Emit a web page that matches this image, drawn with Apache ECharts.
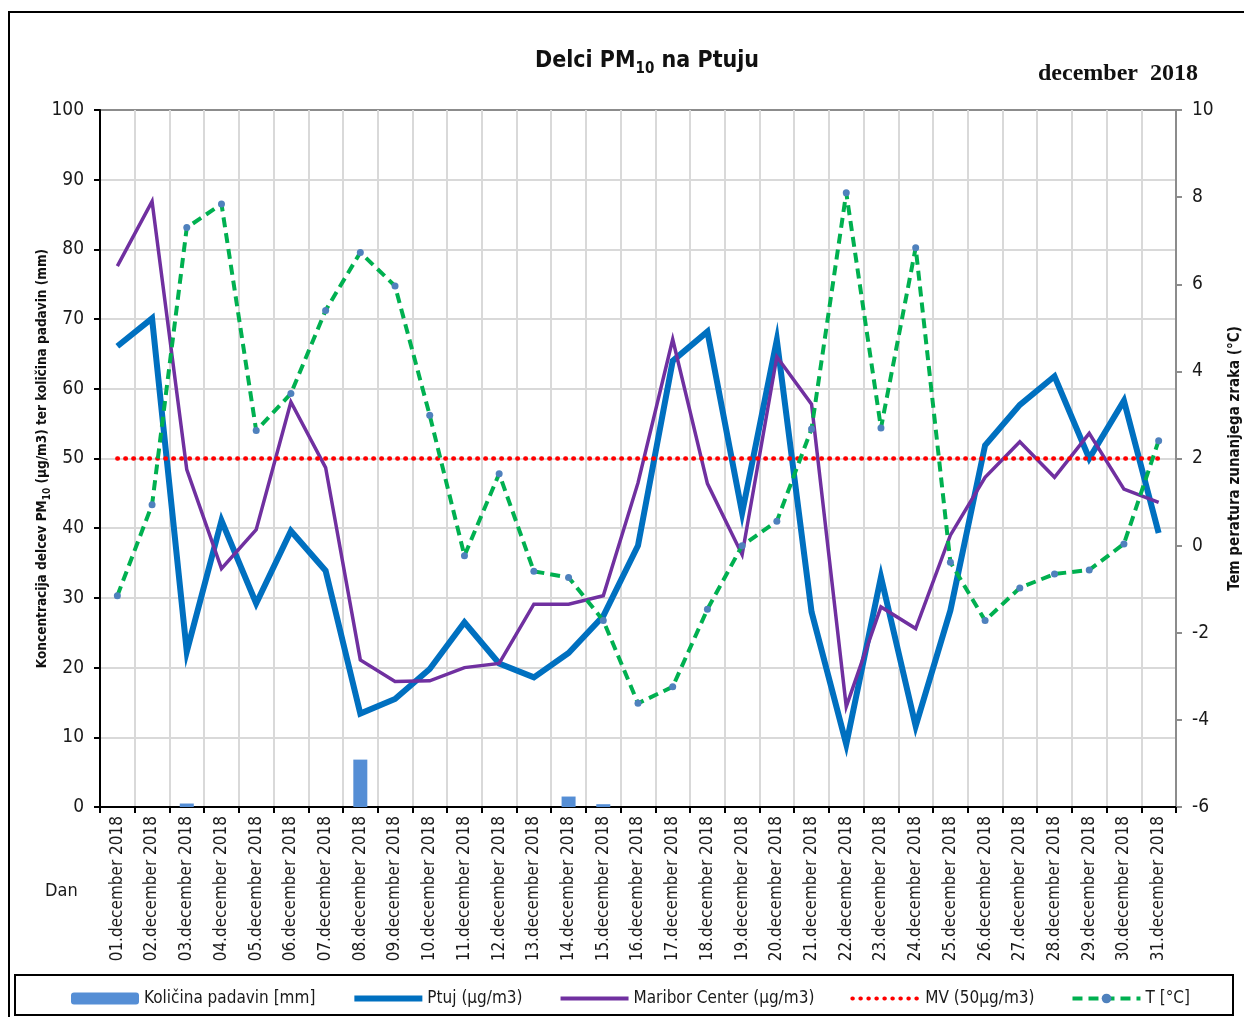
<!DOCTYPE html>
<html>
<head>
<meta charset="utf-8">
<title>Delci PM10 na Ptuju</title>
<script src="https://cdn.jsdelivr.net/npm/echarts@6/dist/echarts.min.js"></script>
<style>
  html, body { margin: 0; padding: 0; background: #fff; }
  #main { width: 1244px; height: 1017px; }
</style>
</head>
<body>
<div id="main"></div>
<script>
// dnevi v decembru 2018
const days = [
  '01.december 2018', '02.december 2018', '03.december 2018', '04.december 2018',
  '05.december 2018', '06.december 2018', '07.december 2018', '08.december 2018',
  '09.december 2018', '10.december 2018', '11.december 2018', '12.december 2018',
  '13.december 2018', '14.december 2018', '15.december 2018', '16.december 2018',
  '17.december 2018', '18.december 2018', '19.december 2018', '20.december 2018',
  '21.december 2018', '22.december 2018', '23.december 2018', '24.december 2018',
  '25.december 2018', '26.december 2018', '27.december 2018', '28.december 2018',
  '29.december 2018', '30.december 2018', '31.december 2018'
];

// količina padavin [mm]
const rain = [0, 0, 0.5, 0, 0, 0, 0, 6.8, 0, 0, 0, 0, 0, 1.5, 0.4, 0,
  0, 0, 0, 0, 0, 0, 0, 0, 0, 0, 0, 0, 0, 0, 0];

// PM10 Ptuj (µg/m3)
const ptuj = [66.1, 70.1, 22.3, 41.1, 29.2, 39.6, 33.9, 13.4, 15.5, 19.8, 26.5, 20.6,
  18.6, 22.1, 27.4, 37.5, 64, 68.2, 42.2, 67, 28, 9, 33, 11.6, 28.2, 51.9,
  57.7, 61.8, 50, 58.3, 39.3];

// PM10 Maribor Center (µg/m3)
const maribor = [77.6, 86.9, 48.4, 34.2, 39.8, 58.1, 48.7, 21.1, 18, 18.1, 20, 20.6,
  29.1, 29.1, 30.3, 46.5, 67.1, 46.4, 36.2, 64.6, 57.8, 14.4, 28.7, 25.6, 39, 47.3,
  52.4, 47.3, 53.6, 45.6, 43.7];

// mejna vrednost
const mvLimit = 50;

// temperatura zraka [°C]
const temp = [-1.15, 0.94, 7.3, 7.84, 2.64, 3.49, 5.4, 6.73, 5.96, 2.99, -0.23, 1.65,
  -0.59, -0.73, -1.72, -3.62, -3.24, -1.46, 0.0, 0.56, 2.68, 8.1, 2.7, 6.84, -0.38,
  -1.72, -0.97, -0.65, -0.56, 0.04, 2.41];

const narrow = "'Liberation Sans Narrow', 'DejaVu Sans Condensed', 'Arial Narrow', sans-serif";
const gridColor = '#D9D9D9';

const chart = echarts.init(document.getElementById('main'));

const option = {
  backgroundColor: '#fff',
  animation: false,
  textStyle: { fontFamily: narrow, color: '#1a1a1a' },
  title: [
    {
      text: '{a|Delci PM}{s|10}{a| na Ptuju}',
      left: 530,
      top: 40,
      textStyle: {
        rich: {
          a: { fontFamily: narrow, fontSize: 23, fontWeight: 'bold', color: '#111', lineHeight: 32 },
          s: { fontFamily: narrow, fontSize: 15, fontWeight: 'bold', color: '#111', lineHeight: 16, verticalAlign: 'bottom' }
        }
      }
    },
    {
      text: 'december  2018',
      left: 1033,
      top: 57,
      textStyle: { fontFamily: "'Liberation Serif', 'DejaVu Serif', serif", fontSize: 24, fontWeight: 'bold', color: '#111' }
    }
  ],
  grid: { left: 100, right: 68, top: 110, bottom: 210, outerBoundsMode: 'none' },
  legend: {
    left: 66,
    top: 985,
    itemWidth: 68,
    itemHeight: 12,
    itemGap: 36,
    textStyle: { fontFamily: narrow, fontSize: 17, color: '#1a1a1a' },
    data: [
      { name: 'Količina padavin [mm]' },
      { name: 'Ptuj (µg/m3)', itemStyle: { opacity: 0 }, lineStyle: { width: 6 } },
      { name: 'Maribor Center (µg/m3)', itemStyle: { opacity: 0 }, lineStyle: { width: 4 } },
      { name: 'MV (50µg/m3)', itemStyle: { opacity: 0 }, lineStyle: { width: 4 } },
      { name: 'T [°C]', lineStyle: { width: 4 } }
    ]
  },
  xAxis: {
    type: 'category',
    data: days,
    boundaryGap: true,
    axisLine: { lineStyle: { color: '#000', width: 2 } },
    axisTick: { show: true, interval: 0, length: 6, lineStyle: { color: '#000', width: 2 } },
    axisLabel: { interval: 0, rotate: 90, fontSize: 17, margin: 9, color: '#1a1a1a', fontFamily: narrow },
    splitLine: { show: true, interval: 0, lineStyle: { color: gridColor, width: 2 } }
  },
  yAxis: [
    {
      type: 'value',
      min: 0,
      max: 100,
      interval: 10,
      name: '{b|Koncentracija delcev PM}{s|10}{b| (µg/m3) ter količina padavin (mm)}',
      nameLocation: 'middle',
      nameGap: 48,
      nameMoveOverlap: false,
      nameRotate: 90,
      nameTextStyle: {
        rich: {
          b: { fontFamily: narrow, fontSize: 13.5, fontWeight: 'bold', color: '#111', lineHeight: 20 },
          s: { fontFamily: narrow, fontSize: 10, fontWeight: 'bold', color: '#111', lineHeight: 12, verticalAlign: 'bottom' }
        }
      },
      axisLine: { show: true, lineStyle: { color: '#000', width: 2 } },
      axisTick: { show: true, length: 6, lineStyle: { color: '#000', width: 2 } },
      axisLabel: { fontSize: 19, margin: 16, color: '#1a1a1a', fontFamily: narrow },
      splitLine: {
        show: true,
        lineStyle: {
          color: [gridColor, gridColor, gridColor, gridColor, gridColor, gridColor,
            gridColor, gridColor, gridColor, gridColor, '#8C8C8C'],
          width: 2
        }
      }
    },
    {
      type: 'value',
      min: -6,
      max: 10,
      interval: 2,
      position: 'right',
      name: 'Tem peratura zunanjega zraka (°C)',
      nameLocation: 'middle',
      nameGap: 52,
      nameRotate: 90,
      nameTextStyle: { fontFamily: narrow, fontSize: 15, fontWeight: 'bold', color: '#111' },
      axisLine: { show: true, lineStyle: { color: '#8C8C8C', width: 2 } },
      axisTick: { show: true, length: 6, lineStyle: { color: '#8C8C8C', width: 2 } },
      axisLabel: { fontSize: 19, margin: 16, color: '#1a1a1a', fontFamily: narrow },
      splitLine: { show: false }
    }
  ],
  series: [
    {
      name: 'Količina padavin [mm]',
      type: 'bar',
      yAxisIndex: 0,
      barWidth: 14,
      itemStyle: { color: '#558ED5' },
      data: rain
    },
    {
      name: 'Ptuj (µg/m3)',
      type: 'line',
      yAxisIndex: 0,
      symbol: 'none',
      lineStyle: { color: '#0070C0', width: 6, join: 'miter' },
      itemStyle: { color: '#0070C0' },
      data: ptuj
    },
    {
      name: 'Maribor Center (µg/m3)',
      type: 'line',
      yAxisIndex: 0,
      symbol: 'none',
      lineStyle: { color: '#7030A0', width: 3.5, join: 'miter' },
      itemStyle: { color: '#7030A0' },
      data: maribor
    },
    {
      name: 'MV (50µg/m3)',
      type: 'line',
      yAxisIndex: 0,
      symbol: 'none',
      lineStyle: { color: '#FF0000', width: 4.5, type: [0.5, 7.5], cap: 'round' },
      itemStyle: { color: '#FF0000' },
      data: days.map(() => mvLimit)
    },
    {
      name: 'T [°C]',
      type: 'line',
      yAxisIndex: 1,
      symbol: 'circle',
      symbolSize: 7,
      lineStyle: { color: '#00B050', width: 4, type: [10, 6] },
      itemStyle: { color: '#4F81BD' },
      data: temp
    }
  ],
  graphic: [
    // okvir grafa
    {
      type: 'rect',
      shape: { x: 9, y: 12, width: 1250, height: 1020 },
      style: { fill: 'none', stroke: '#000', lineWidth: 2 },
      silent: true
    },
    // okvir legende
    {
      type: 'rect',
      shape: { x: 15, y: 975, width: 1218, height: 40 },
      style: { fill: 'none', stroke: '#000', lineWidth: 2 },
      silent: true
    },
    {
      type: 'text',
      left: 45,
      top: 882,
      style: { text: 'Dan', font: "18px " + narrow, fill: '#1a1a1a' }
    }
  ]
};

chart.setOption(option);
</script>
</body>
</html>
